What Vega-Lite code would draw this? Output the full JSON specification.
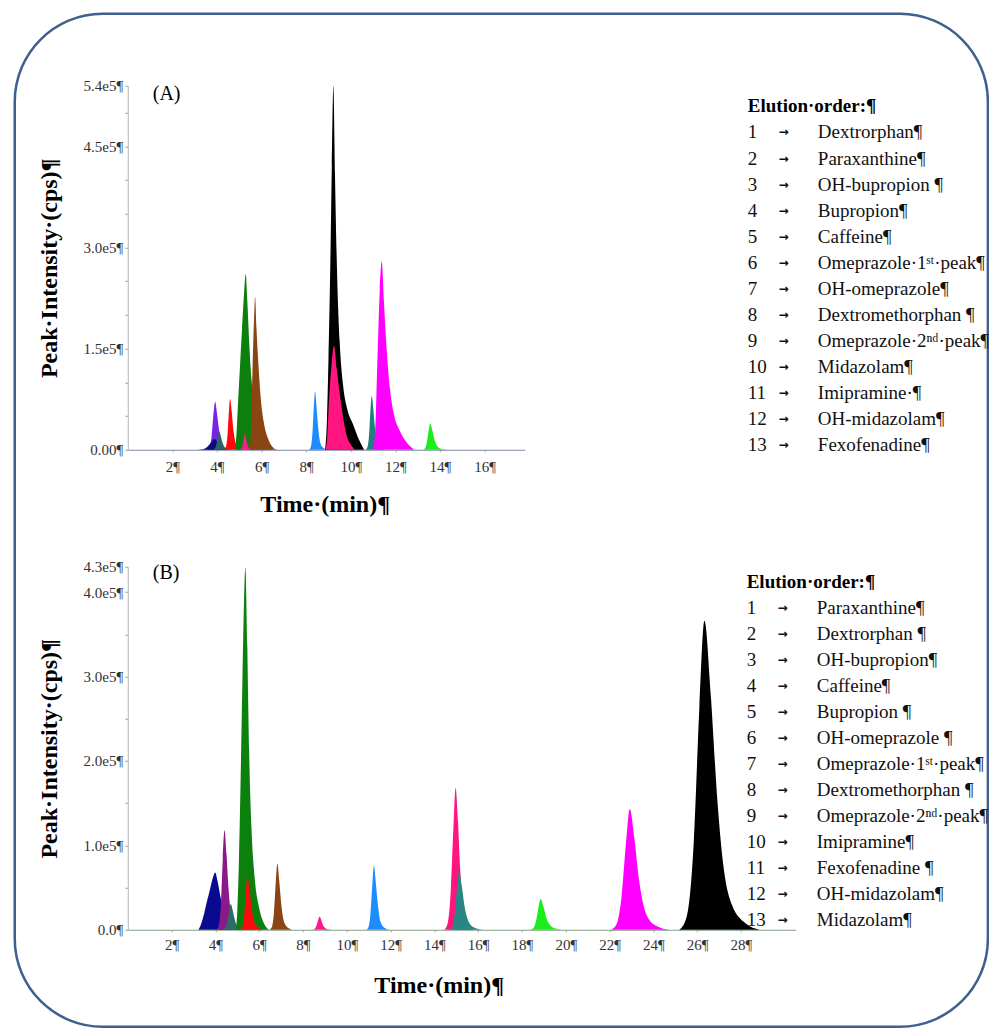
{
  "$schema": "https://vega.github.io/schema/vega-lite/v6.json",
  "padding": {"left": 12.75, "top": 11.75, "right": 0, "bottom": 0},
  "background": "white",
  "bounds": "flush",
  "spacing": 117,
  "resolve": {"scale": {"color": "independent"}},
  "config": {
    "view": {"stroke": null},
    "font": "Liberation Serif",
    "text": {"font": "Liberation Serif"},
    "axis": {
      "labelFont": "Liberation Serif",
      "titleFont": "Liberation Serif",
      "labelFontSize": 15,
      "labelColor": "#333333",
      "titleFontSize": 24,
      "titleFontWeight": "bold",
      "titleColor": "#000000",
      "tickColor": "#a0a0a0",
      "tickSize": 3,
      "domainColor": "#b5b5b5",
      "grid": false,
      "labelOverlap": false,
      "labelFlush": false,
      "labelBound": false
    },
    "axisX": {"labelFontSize": 15, "tickSize": 2}
  },
  "datasets": {
    "one": [{"k": 1}],
    "peaksA": [
      {"c":"Dextrorphan","t":3.54,"i":0},{"c":"Dextrorphan","t":3.65,"i":2850},{"c":"Dextrorphan","t":3.76,"i":19900},{"c":"Dextrorphan","t":3.84,"i":51300},{"c":"Dextrorphan","t":3.92,"i":71200},{"c":"Dextrorphan","t":4.0,"i":54100},{"c":"Dextrorphan","t":4.09,"i":29900},{"c":"Dextrorphan","t":4.17,"i":14200},{"c":"Dextrorphan","t":4.28,"i":5700},{"c":"Dextrorphan","t":4.46,"i":1400},{"c":"Dextrorphan","t":4.64,"i":0},
      {"c":"Paraxanthine","t":3.13,"i":0},{"c":"Paraxanthine","t":3.35,"i":640},{"c":"Paraxanthine","t":3.57,"i":4480},{"c":"Paraxanthine","t":3.75,"i":11520},{"c":"Paraxanthine","t":3.9,"i":16000},{"c":"Paraxanthine","t":4.01,"i":12160},{"c":"Paraxanthine","t":4.11,"i":6720},{"c":"Paraxanthine","t":4.22,"i":3200},{"c":"Paraxanthine","t":4.35,"i":1280},{"c":"Paraxanthine","t":4.58,"i":320},{"c":"Paraxanthine","t":4.8,"i":0},
      {"c":"OH-bupropion","t":3.79,"i":0},{"c":"OH-bupropion","t":3.88,"i":1080},{"c":"OH-bupropion","t":3.97,"i":7560},{"c":"OH-bupropion","t":4.04,"i":19440},{"c":"OH-bupropion","t":4.1,"i":27000},{"c":"OH-bupropion","t":4.17,"i":20520},{"c":"OH-bupropion","t":4.24,"i":11340},{"c":"OH-bupropion","t":4.31,"i":5400},{"c":"OH-bupropion","t":4.4,"i":2160},{"c":"OH-bupropion","t":4.55,"i":540},{"c":"OH-bupropion","t":4.7,"i":0},
      {"c":"Bupropion","t":4.31,"i":0},{"c":"Bupropion","t":4.39,"i":3010},{"c":"Bupropion","t":4.47,"i":21060},{"c":"Bupropion","t":4.53,"i":54140},{"c":"Bupropion","t":4.59,"i":75200},{"c":"Bupropion","t":4.66,"i":57150},{"c":"Bupropion","t":4.73,"i":31580},{"c":"Bupropion","t":4.8,"i":15040},{"c":"Bupropion","t":4.89,"i":6020},{"c":"Bupropion","t":5.04,"i":1500},{"c":"Bupropion","t":5.19,"i":0},
      {"c":"Caffeine","t":4.82,"i":0},{"c":"Caffeine","t":4.88,"i":26060},{"c":"Caffeine","t":4.95,"i":72970},{"c":"Caffeine","t":5.03,"i":122480},{"c":"Caffeine","t":5.12,"i":177210},{"c":"Caffeine","t":5.21,"i":229330},{"c":"Caffeine","t":5.29,"i":260600},{"c":"Caffeine","t":5.36,"i":221510},{"c":"Caffeine","t":5.45,"i":156360},{"c":"Caffeine","t":5.55,"i":104240},{"c":"Caffeine","t":5.7,"i":52120},{"c":"Caffeine","t":5.9,"i":20850},{"c":"Caffeine","t":6.2,"i":5210},{"c":"Caffeine","t":6.5,"i":0},
      {"c":"Omeprazole 1st peak","t":5.01,"i":0},{"c":"Omeprazole 1st peak","t":5.08,"i":930},{"c":"Omeprazole 1st peak","t":5.15,"i":6520},{"c":"Omeprazole 1st peak","t":5.2,"i":16780},{"c":"Omeprazole 1st peak","t":5.25,"i":23300},{"c":"Omeprazole 1st peak","t":5.3,"i":17710},{"c":"Omeprazole 1st peak","t":5.35,"i":9790},{"c":"Omeprazole 1st peak","t":5.4,"i":4660},{"c":"Omeprazole 1st peak","t":5.46,"i":1860},{"c":"Omeprazole 1st peak","t":5.57,"i":470},{"c":"Omeprazole 1st peak","t":5.67,"i":0},
      {"c":"OH-omeprazole","t":5.45,"i":0},{"c":"OH-omeprazole","t":5.52,"i":22700},{"c":"OH-omeprazole","t":5.59,"i":113500},{"c":"OH-omeprazole","t":5.66,"i":192950},{"c":"OH-omeprazole","t":5.71,"i":227000},{"c":"OH-omeprazole","t":5.77,"i":181600},{"c":"OH-omeprazole","t":5.85,"i":131660},{"c":"OH-omeprazole","t":5.95,"i":81720},{"c":"OH-omeprazole","t":6.1,"i":40860},{"c":"OH-omeprazole","t":6.3,"i":15890},{"c":"OH-omeprazole","t":6.55,"i":2270},{"c":"OH-omeprazole","t":6.7,"i":0},
      {"c":"Dextromethorphan","t":8.12,"i":0},{"c":"Dextromethorphan","t":8.2,"i":3460},{"c":"Dextromethorphan","t":8.28,"i":24220},{"c":"Dextromethorphan","t":8.34,"i":62280},{"c":"Dextromethorphan","t":8.4,"i":86500},{"c":"Dextromethorphan","t":8.46,"i":65740},{"c":"Dextromethorphan","t":8.53,"i":36330},{"c":"Dextromethorphan","t":8.59,"i":17300},{"c":"Dextromethorphan","t":8.67,"i":6920},{"c":"Dextromethorphan","t":8.81,"i":1730},{"c":"Dextromethorphan","t":8.94,"i":0},
      {"c":"Midazolam","t":8.85,"i":0},{"c":"Midazolam","t":8.93,"i":43200},{"c":"Midazolam","t":9.0,"i":135000},{"c":"Midazolam","t":9.08,"i":270000},{"c":"Midazolam","t":9.15,"i":421200},{"c":"Midazolam","t":9.22,"i":540000},{"c":"Midazolam","t":9.29,"i":410400},{"c":"Midazolam","t":9.38,"i":270000},{"c":"Midazolam","t":9.5,"i":162000},{"c":"Midazolam","t":9.65,"i":97200},{"c":"Midazolam","t":9.85,"i":59400},{"c":"Midazolam","t":10.1,"i":37800},{"c":"Midazolam","t":10.35,"i":16200},{"c":"Midazolam","t":10.6,"i":0},
      {"c":"Omeprazole 2nd peak","t":8.88,"i":0},{"c":"Omeprazole 2nd peak","t":8.95,"i":23150},{"c":"Omeprazole 2nd peak","t":9.03,"i":77150},{"c":"Omeprazole 2nd peak","t":9.13,"i":123440},{"c":"Omeprazole 2nd peak","t":9.25,"i":154300},{"c":"Omeprazole 2nd peak","t":9.37,"i":120350},{"c":"Omeprazole 2nd peak","t":9.5,"i":84870},{"c":"Omeprazole 2nd peak","t":9.65,"i":49380},{"c":"Omeprazole 2nd peak","t":9.8,"i":23150},{"c":"Omeprazole 2nd peak","t":10.0,"i":7720},{"c":"Omeprazole 2nd peak","t":10.2,"i":0},
      {"c":"Imipramine","t":10.66,"i":0},{"c":"Imipramine","t":10.74,"i":3200},{"c":"Imipramine","t":10.82,"i":22430},{"c":"Imipramine","t":10.88,"i":57670},{"c":"Imipramine","t":10.94,"i":80100},{"c":"Imipramine","t":11.01,"i":60880},{"c":"Imipramine","t":11.08,"i":33640},{"c":"Imipramine","t":11.15,"i":16020},{"c":"Imipramine","t":11.24,"i":6410},{"c":"Imipramine","t":11.39,"i":1600},{"c":"Imipramine","t":11.54,"i":0},
      {"c":"OH-midazolam","t":11.02,"i":0},{"c":"OH-midazolam","t":11.1,"i":33530},{"c":"OH-midazolam","t":11.2,"i":139700},{"c":"OH-midazolam","t":11.3,"i":237490},{"c":"OH-midazolam","t":11.39,"i":279400},{"c":"OH-midazolam","t":11.48,"i":223520},{"c":"OH-midazolam","t":11.6,"i":153670},{"c":"OH-midazolam","t":11.75,"i":92200},{"c":"OH-midazolam","t":11.95,"i":50290},{"c":"OH-midazolam","t":12.2,"i":27940},{"c":"OH-midazolam","t":12.5,"i":11180},{"c":"OH-midazolam","t":12.85,"i":0},
      {"c":"Fexofenadine","t":13.21,"i":0},{"c":"Fexofenadine","t":13.31,"i":1560},{"c":"Fexofenadine","t":13.41,"i":10920},{"c":"Fexofenadine","t":13.49,"i":28080},{"c":"Fexofenadine","t":13.56,"i":39000},{"c":"Fexofenadine","t":13.65,"i":29640},{"c":"Fexofenadine","t":13.74,"i":16380},{"c":"Fexofenadine","t":13.83,"i":7800},{"c":"Fexofenadine","t":13.95,"i":3120},{"c":"Fexofenadine","t":14.15,"i":780},{"c":"Fexofenadine","t":14.34,"i":0}
    ],
    "peaksB": [
      {"c":"Paraxanthine","t":3.23,"i":0},{"c":"Paraxanthine","t":3.35,"i":6790},{"c":"Paraxanthine","t":3.5,"i":20370},{"c":"Paraxanthine","t":3.62,"i":33950},{"c":"Paraxanthine","t":3.75,"i":47530},{"c":"Paraxanthine","t":3.88,"i":61110},{"c":"Paraxanthine","t":3.99,"i":67900},{"c":"Paraxanthine","t":4.1,"i":57720},{"c":"Paraxanthine","t":4.22,"i":40740},{"c":"Paraxanthine","t":4.35,"i":23770},{"c":"Paraxanthine","t":4.5,"i":10190},{"c":"Paraxanthine","t":4.65,"i":3400},{"c":"Paraxanthine","t":4.8,"i":0},
      {"c":"Dextrorphan","t":4.04,"i":0},{"c":"Dextrorphan","t":4.15,"i":4720},{"c":"Dextrorphan","t":4.26,"i":33070},{"c":"Dextrorphan","t":4.34,"i":85030},{"c":"Dextrorphan","t":4.42,"i":118100},{"c":"Dextrorphan","t":4.51,"i":89760},{"c":"Dextrorphan","t":4.6,"i":49600},{"c":"Dextrorphan","t":4.69,"i":23620},{"c":"Dextrorphan","t":4.81,"i":9450},{"c":"Dextrorphan","t":5.0,"i":2360},{"c":"Dextrorphan","t":5.2,"i":0},
      {"c":"OH-bupropion","t":4.29,"i":0},{"c":"OH-bupropion","t":4.41,"i":1220},{"c":"OH-bupropion","t":4.53,"i":8510},{"c":"OH-bupropion","t":4.63,"i":21890},{"c":"OH-bupropion","t":4.71,"i":30400},{"c":"OH-bupropion","t":4.79,"i":23100},{"c":"OH-bupropion","t":4.88,"i":12770},{"c":"OH-bupropion","t":4.96,"i":6080},{"c":"OH-bupropion","t":5.07,"i":2430},{"c":"OH-bupropion","t":5.25,"i":610},{"c":"OH-bupropion","t":5.43,"i":0},
      {"c":"Caffeine","t":4.93,"i":0},{"c":"Caffeine","t":5.0,"i":21460},{"c":"Caffeine","t":5.08,"i":85840},{"c":"Caffeine","t":5.18,"i":214600},{"c":"Caffeine","t":5.27,"i":343360},{"c":"Caffeine","t":5.37,"i":429200},{"c":"Caffeine","t":5.46,"i":334780},{"c":"Caffeine","t":5.54,"i":214600},{"c":"Caffeine","t":5.65,"i":120180},{"c":"Caffeine","t":5.8,"i":60090},{"c":"Caffeine","t":6.0,"i":25750},{"c":"Caffeine","t":6.2,"i":8580},{"c":"Caffeine","t":6.45,"i":0},
      {"c":"Bupropion","t":5.12,"i":0},{"c":"Bupropion","t":5.22,"i":2560},{"c":"Bupropion","t":5.32,"i":17920},{"c":"Bupropion","t":5.4,"i":46080},{"c":"Bupropion","t":5.47,"i":64000},{"c":"Bupropion","t":5.56,"i":48640},{"c":"Bupropion","t":5.65,"i":26880},{"c":"Bupropion","t":5.74,"i":12800},{"c":"Bupropion","t":5.86,"i":5120},{"c":"Bupropion","t":6.06,"i":1280},{"c":"Bupropion","t":6.25,"i":0},
      {"c":"OH-omeprazole","t":6.48,"i":0},{"c":"OH-omeprazole","t":6.58,"i":3140},{"c":"OH-omeprazole","t":6.68,"i":22010},{"c":"OH-omeprazole","t":6.76,"i":56590},{"c":"OH-omeprazole","t":6.83,"i":78600},{"c":"OH-omeprazole","t":6.91,"i":59740},{"c":"OH-omeprazole","t":7.0,"i":33010},{"c":"OH-omeprazole","t":7.08,"i":15720},{"c":"OH-omeprazole","t":7.19,"i":6290},{"c":"OH-omeprazole","t":7.37,"i":1570},{"c":"OH-omeprazole","t":7.55,"i":0},
      {"c":"Omeprazole 1st peak","t":8.41,"i":0},{"c":"Omeprazole 1st peak","t":8.51,"i":630},{"c":"Omeprazole 1st peak","t":8.61,"i":4420},{"c":"Omeprazole 1st peak","t":8.69,"i":11380},{"c":"Omeprazole 1st peak","t":8.76,"i":15800},{"c":"Omeprazole 1st peak","t":8.83,"i":12010},{"c":"Omeprazole 1st peak","t":8.9,"i":6640},{"c":"Omeprazole 1st peak","t":8.97,"i":3160},{"c":"Omeprazole 1st peak","t":9.06,"i":1260},{"c":"Omeprazole 1st peak","t":9.21,"i":320},{"c":"Omeprazole 1st peak","t":9.36,"i":0},
      {"c":"Dextromethorphan","t":10.89,"i":0},{"c":"Dextromethorphan","t":10.99,"i":3030},{"c":"Dextromethorphan","t":11.09,"i":21220},{"c":"Dextromethorphan","t":11.17,"i":54580},{"c":"Dextromethorphan","t":11.24,"i":75800},{"c":"Dextromethorphan","t":11.32,"i":57610},{"c":"Dextromethorphan","t":11.41,"i":31840},{"c":"Dextromethorphan","t":11.49,"i":15160},{"c":"Dextromethorphan","t":11.6,"i":6060},{"c":"Dextromethorphan","t":11.78,"i":1520},{"c":"Dextromethorphan","t":11.96,"i":0},
      {"c":"Omeprazole 2nd peak","t":14.45,"i":0},{"c":"Omeprazole 2nd peak","t":14.6,"i":6710},{"c":"Omeprazole 2nd peak","t":14.75,"i":46980},{"c":"Omeprazole 2nd peak","t":14.87,"i":120820},{"c":"Omeprazole 2nd peak","t":14.97,"i":167800},{"c":"Omeprazole 2nd peak","t":15.08,"i":127530},{"c":"Omeprazole 2nd peak","t":15.18,"i":70480},{"c":"Omeprazole 2nd peak","t":15.29,"i":33560},{"c":"Omeprazole 2nd peak","t":15.42,"i":13420},{"c":"Omeprazole 2nd peak","t":15.65,"i":3360},{"c":"Omeprazole 2nd peak","t":15.87,"i":0},
      {"c":"Imipramine","t":14.67,"i":0},{"c":"Imipramine","t":14.8,"i":2760},{"c":"Imipramine","t":14.93,"i":19350},{"c":"Imipramine","t":15.03,"i":49750},{"c":"Imipramine","t":15.12,"i":69100},{"c":"Imipramine","t":15.25,"i":52520},{"c":"Imipramine","t":15.37,"i":29020},{"c":"Imipramine","t":15.5,"i":13820},{"c":"Imipramine","t":15.66,"i":5530},{"c":"Imipramine","t":15.93,"i":1380},{"c":"Imipramine","t":16.2,"i":0},
      {"c":"Fexofenadine","t":18.36,"i":0},{"c":"Fexofenadine","t":18.5,"i":1450},{"c":"Fexofenadine","t":18.64,"i":10160},{"c":"Fexofenadine","t":18.75,"i":26140},{"c":"Fexofenadine","t":18.85,"i":36300},{"c":"Fexofenadine","t":18.98,"i":27590},{"c":"Fexofenadine","t":19.1,"i":15250},{"c":"Fexofenadine","t":19.23,"i":7260},{"c":"Fexofenadine","t":19.39,"i":2900},{"c":"Fexofenadine","t":19.66,"i":730},{"c":"Fexofenadine","t":19.93,"i":0},
      {"c":"OH-midazolam","t":22.05,"i":0},{"c":"OH-midazolam","t":22.3,"i":5720},{"c":"OH-midazolam","t":22.55,"i":40040},{"c":"OH-midazolam","t":22.75,"i":102960},{"c":"OH-midazolam","t":22.92,"i":143000},{"c":"OH-midazolam","t":23.13,"i":108680},{"c":"OH-midazolam","t":23.34,"i":60060},{"c":"OH-midazolam","t":23.55,"i":28600},{"c":"OH-midazolam","t":23.82,"i":11440},{"c":"OH-midazolam","t":24.27,"i":2860},{"c":"OH-midazolam","t":24.72,"i":0},
      {"c":"Midazolam","t":25.18,"i":0},{"c":"Midazolam","t":25.51,"i":14640},{"c":"Midazolam","t":25.84,"i":102480},{"c":"Midazolam","t":26.1,"i":263520},{"c":"Midazolam","t":26.33,"i":366000},{"c":"Midazolam","t":26.62,"i":278160},{"c":"Midazolam","t":26.92,"i":153720},{"c":"Midazolam","t":27.21,"i":73200},{"c":"Midazolam","t":27.59,"i":29280},{"c":"Midazolam","t":28.22,"i":7320},{"c":"Midazolam","t":28.85,"i":0}
    ],
    "legendA": [
      {"r":1,"name":"Dextrorphan¶"},{"r":2,"name":"Paraxanthine¶"},{"r":3,"name":"OH-bupropion ¶"},{"r":4,"name":"Bupropion¶"},{"r":5,"name":"Caffeine¶"},{"r":6,"name":"Omeprazole·1ˢᵗ·peak¶"},{"r":7,"name":"OH-omeprazole¶"},{"r":8,"name":"Dextromethorphan ¶"},{"r":9,"name":"Omeprazole·2ⁿᵈ·peak¶"},{"r":10,"name":"Midazolam¶"},{"r":11,"name":"Imipramine·¶"},{"r":12,"name":"OH-midazolam¶"},{"r":13,"name":"Fexofenadine¶"}
    ],
    "legendB": [
      {"r":1,"name":"Paraxanthine¶"},{"r":2,"name":"Dextrorphan ¶"},{"r":3,"name":"OH-bupropion¶"},{"r":4,"name":"Caffeine¶"},{"r":5,"name":"Bupropion ¶"},{"r":6,"name":"OH-omeprazole ¶"},{"r":7,"name":"Omeprazole·1ˢᵗ·peak¶"},{"r":8,"name":"Dextromethorphan ¶"},{"r":9,"name":"Omeprazole·2ⁿᵈ·peak¶"},{"r":10,"name":"Imipramine¶"},{"r":11,"name":"Fexofenadine ¶"},{"r":12,"name":"OH-midazolam¶"},{"r":13,"name":"Midazolam¶"}
    ]
  },
  "vconcat": [
    {
      "width": 397,
      "height": 364,
      "resolve": {"scale": {"y": "independent"}},
      "layer": [
        {
          "data": {"name": "one"},
          "mark": {"type": "rect", "fill": null, "stroke": "#3f5f8d", "strokeWidth": 2.5, "cornerRadius": 88},
          "encoding": {
            "x": {"datum": -5.067},
            "x2": {"datum": 38.565},
            "y": {"datum": 646806, "scale": {"domain": [0, 540000], "nice": false, "zero": false}, "axis": null},
            "y2": {"datum": -855980}
          }
        },
        {
          "data": {"name": "peaksA"},
          "mark": {"type": "area", "interpolate": "monotone"},
          "encoding": {
            "x": {
              "field": "t", "type": "quantitative",
              "scale": {"domain": [0, 17.8], "nice": false, "zero": false},
              "axis": {
                "values": [2, 4, 6, 8, 10, 12, 14, 16],
                "labelExpr": "datum.value + '¶'",
                "title": "Time·(min)¶",
                "titleX": 197, "titleY": 55, "titleBaseline": "middle",
                "labelPadding": 8,
                "domainColor": "#7f88a6"
              }
            },
            "y": {
              "field": "i", "type": "quantitative", "stack": null,
              "scale": {"domain": [0, 540000], "nice": false},
              "axis": {
                "values": [0, 50000, 100000, 150000, 200000, 250000, 300000, 350000, 400000, 450000, 500000, 540000],
                "labelExpr": "datum.value == 0 ? '0.00¶' : datum.value == 150000 ? '1.5e5¶' : datum.value == 300000 ? '3.0e5¶' : datum.value == 450000 ? '4.5e5¶' : datum.value == 540000 ? '5.4e5¶' : ''",
                "labelPadding": 2,
                "title": "Peak·Intensity·(cps)¶",
                "titleX": -78, "titleBaseline": "middle"
              }
            },
            "color": {
              "field": "c", "type": "nominal", "legend": null,
              "scale": {
                "domain": ["Dextrorphan", "Paraxanthine", "OH-bupropion", "Bupropion", "Caffeine", "Omeprazole 1st peak", "OH-omeprazole", "Dextromethorphan", "Midazolam", "Omeprazole 2nd peak", "Imipramine", "OH-midazolam", "Fexofenadine"],
                "range": ["#7b22e8", "#0b0b80", "#2c6464", "#ff0a0a", "#0c800c", "#ff1a8c", "#8b4513", "#1e8cff", "#000000", "#ff1480", "#1f7f80", "#ff00ff", "#1aee1a"]
              }
            }
          }
        },
        {
          "data": {"name": "one"},
          "mark": {"type": "text", "text": "(A)", "fontSize": 20, "align": "left", "baseline": "middle", "color": "#000000"},
          "encoding": {
            "x": {"datum": 1.12},
            "y": {"datum": 527400, "scale": {"domain": [0, 540000], "nice": false, "zero": false}, "axis": null}
          }
        },
        {
          "data": {"name": "one"},
          "mark": {"type": "text", "text": "Elution·order:¶", "fontSize": 19, "fontWeight": "bold", "align": "left", "baseline": "middle", "color": "#000000"},
          "encoding": {
            "x": {"datum": 27.8},
            "y": {"datum": 0, "scale": {"domain": [-0.793, 13.18], "reverse": true, "nice": false, "zero": false}, "axis": null}
          }
        },
        {
          "data": {"name": "legendA"},
          "mark": {"type": "text", "fontSize": 19, "align": "left", "baseline": "middle", "color": "#111111"},
          "encoding": {
            "x": {"datum": 27.8},
            "y": {"field": "r", "type": "quantitative", "scale": {"domain": [-0.793, 13.18], "reverse": true, "nice": false, "zero": false}, "axis": null},
            "text": {"field": "r", "type": "quantitative"}
          }
        },
        {
          "data": {"name": "legendA"},
          "mark": {"type": "text", "text": "→", "font": "DejaVu Sans", "fontSize": 12, "fontWeight": "bold", "align": "center", "baseline": "middle", "color": "#111111"},
          "encoding": {
            "x": {"datum": 29.4},
            "y": {"field": "r", "type": "quantitative", "scale": {"domain": [-0.793, 13.18], "reverse": true, "nice": false, "zero": false}, "axis": null}
          }
        },
        {
          "data": {"name": "legendA"},
          "mark": {"type": "text", "fontSize": 19, "align": "left", "baseline": "middle", "color": "#111111"},
          "encoding": {
            "x": {"datum": 30.94},
            "y": {"field": "r", "type": "quantitative", "scale": {"domain": [-0.793, 13.18], "reverse": true, "nice": false, "zero": false}, "axis": null},
            "text": {"field": "name", "type": "nominal"}
          }
        }
      ]
    },
    {
      "width": 668,
      "height": 363,
      "resolve": {"scale": {"y": "independent"}},
      "layer": [
        {
          "data": {"name": "peaksB"},
          "mark": {"type": "area", "interpolate": "monotone"},
          "encoding": {
            "x": {
              "field": "t", "type": "quantitative",
              "scale": {"domain": [0, 30.5], "nice": false, "zero": false},
              "axis": {
                "values": [2, 4, 6, 8, 10, 12, 14, 16, 18, 20, 22, 24, 26, 28],
                "labelExpr": "datum.value + '¶'",
                "title": "Time·(min)¶",
                "titleX": 311, "titleY": 56, "titleBaseline": "middle",
                "labelPadding": 6,
                "domainColor": "#86a086"
              }
            },
            "y": {
              "field": "i", "type": "quantitative", "stack": null,
              "scale": {"domain": [0, 430000], "nice": false},
              "axis": {
                "values": [0, 50000, 100000, 150000, 200000, 250000, 300000, 350000, 400000, 430000],
                "labelExpr": "datum.value == 0 ? '0.0¶' : datum.value == 100000 ? '1.0e5¶' : datum.value == 200000 ? '2.0e5¶' : datum.value == 300000 ? '3.0e5¶' : datum.value == 400000 ? '4.0e5¶' : datum.value == 430000 ? '4.3e5¶' : ''",
                "labelPadding": 2,
                "title": "Peak·Intensity·(cps)¶",
                "titleX": -78, "titleBaseline": "middle"
              }
            },
            "color": {
              "field": "c", "type": "nominal", "legend": null,
              "scale": {
                "domain": ["Paraxanthine", "Dextrorphan", "OH-bupropion", "Caffeine", "Bupropion", "OH-omeprazole", "Omeprazole 1st peak", "Dextromethorphan", "Omeprazole 2nd peak", "Imipramine", "Fexofenadine", "OH-midazolam", "Midazolam"],
                "range": ["#0a0a90", "#8a1a8a", "#2e6a6a", "#0c800c", "#ff0a0a", "#8b4513", "#ff1a8c", "#1e8cff", "#ff1480", "#2a8585", "#1aee1a", "#ff00ff", "#000000"]
              }
            }
          }
        },
        {
          "data": {"name": "one"},
          "mark": {"type": "text", "text": "(B)", "fontSize": 20, "align": "left", "baseline": "middle", "color": "#000000"},
          "encoding": {
            "x": {"datum": 1.14},
            "y": {"datum": 422300, "scale": {"domain": [0, 430000], "nice": false, "zero": false}, "axis": null}
          }
        },
        {
          "data": {"name": "one"},
          "mark": {"type": "text", "text": "Elution·order:¶", "fontSize": 19, "fontWeight": "bold", "align": "left", "baseline": "middle", "color": "#000000"},
          "encoding": {
            "x": {"datum": 28.26},
            "y": {"datum": 0, "scale": {"domain": [-0.588, 13.373], "reverse": true, "nice": false, "zero": false}, "axis": null}
          }
        },
        {
          "data": {"name": "legendB"},
          "mark": {"type": "text", "fontSize": 19, "align": "left", "baseline": "middle", "color": "#111111"},
          "encoding": {
            "x": {"datum": 28.26},
            "y": {"field": "r", "type": "quantitative", "scale": {"domain": [-0.588, 13.373], "reverse": true, "nice": false, "zero": false}, "axis": null},
            "text": {"field": "r", "type": "quantitative"}
          }
        },
        {
          "data": {"name": "legendB"},
          "mark": {"type": "text", "text": "→", "font": "DejaVu Sans", "fontSize": 12, "fontWeight": "bold", "align": "center", "baseline": "middle", "color": "#111111"},
          "encoding": {
            "x": {"datum": 29.9},
            "y": {"field": "r", "type": "quantitative", "scale": {"domain": [-0.588, 13.373], "reverse": true, "nice": false, "zero": false}, "axis": null}
          }
        },
        {
          "data": {"name": "legendB"},
          "mark": {"type": "text", "fontSize": 19, "align": "left", "baseline": "middle", "color": "#111111"},
          "encoding": {
            "x": {"datum": 31.46},
            "y": {"field": "r", "type": "quantitative", "scale": {"domain": [-0.588, 13.373], "reverse": true, "nice": false, "zero": false}, "axis": null},
            "text": {"field": "name", "type": "nominal"}
          }
        }
      ]
    }
  ]
}
